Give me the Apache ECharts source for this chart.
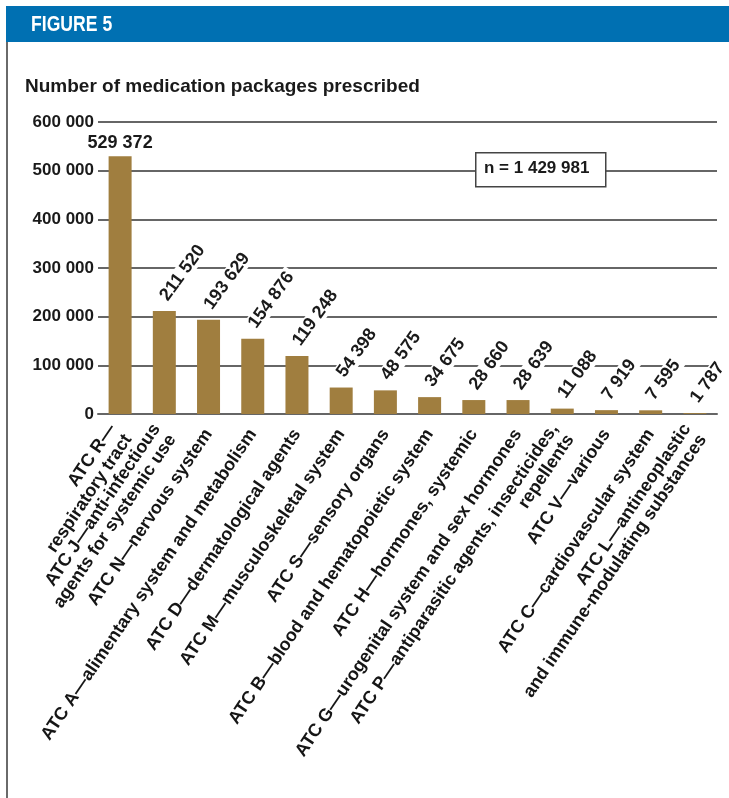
<!DOCTYPE html>
<html>
<head>
<meta charset="utf-8">
<style>
  html, body { margin: 0; padding: 0; background: #fff; }
  #chart { width: 729px; height: 798px; }
</style>
<script src="https://cdn.jsdelivr.net/npm/echarts@6/dist/echarts.min.js"></script>
</head>
<body>
<div id="chart"></div>
<script>
// ATC groups, ordered by number of packages prescribed
const categories = [
  'ATC R—\nrespiratory tract',
  'ATC J—anti-infectious\nagents for systemic use',
  'ATC N—nervous system',
  'ATC A—alimentary system and metabolism',
  'ATC D—dermatological agents',
  'ATC M—musculoskeletal system',
  'ATC S—sensory organs',
  'ATC B—blood and hematopoietic system',
  'ATC H—hormones, systemic',
  'ATC G—urogenital system and sex hormones',
  'ATC P—antiparasitic agents, insecticides,\nrepellents',
  'ATC V—various',
  'ATC C—cardiovascular system',
  'ATC L—antineoplastic\nand immune-modulating substances'
];
const packages = [529372, 211520, 193629, 154876, 119248, 54398, 48575, 34675, 28660, 28639, 11088, 7919, 7595, 1787];
const yTicks = [0, 100000, 200000, 300000, 400000, 500000, 600000];
const totalLabel = 'n = 1 429 981';
const figureTitle = 'FIGURE 5';
const axisTitle = 'Number of medication packages prescribed';

const FONT = '"Liberation Sans", Arial, Helvetica, sans-serif';
const fmt = v => String(v).replace(/\B(?=(\d{3})+(?!\d))/g, ' ');

// the tallest bar carries a horizontal label, the rest are slanted
const barData = packages.map((v, i) => i === 0
  ? { value: v, label: { rotate: 0, align: 'center', verticalAlign: 'bottom', offset: [0, 0], distance: 4, backgroundColor: 'transparent', padding: 0 } }
  : v);

const chart = echarts.init(document.getElementById('chart'), null, { renderer: 'canvas' });
chart.setOption({
  backgroundColor: '#fff',
  animation: false,
  title: {
    text: axisTitle,
    left: 20, top: 72,
    textStyle: { fontFamily: FONT, fontWeight: 'bold', fontSize: 19, color: '#1a1a1a' }
  },
  grid: { left: 98, right: 12, top: 122, bottom: 384, containLabel: false },
  xAxis: {
    type: 'category',
    data: categories,
    axisTick: { show: false },
    axisLine: { lineStyle: { color: '#666', width: 2 } },
    axisLabel: {
      interval: 0, rotate: 56, margin: 17,
      fontFamily: FONT, fontWeight: 'bold', fontSize: 18, lineHeight: 19, color: '#151515'
    }
  },
  yAxis: {
    type: 'value',
    min: yTicks[0], max: yTicks[yTicks.length - 1], interval: yTicks[1] - yTicks[0],
    axisLine: { show: false },
    axisTick: { show: false },
    splitLine: { lineStyle: { color: '#666', width: 2 } },
    axisLabel: {
      margin: 4, formatter: v => fmt(v),
      fontFamily: FONT, fontWeight: 'bold', fontSize: 17, color: '#1a1a1a'
    }
  },
  series: [{
    type: 'bar',
    data: barData,
    barWidth: 23,
    itemStyle: { color: '#a07e3f' },
    label: {
      show: true, position: 'top', rotate: 54, align: 'left', verticalAlign: 'middle',
      distance: 13, offset: [-4, 0],
      formatter: p => fmt(p.value),
      fontFamily: FONT, fontWeight: 'bold', fontSize: 18, color: '#1a1a1a',
      backgroundColor: '#fff', padding: [0, 3]
    }
  }],
  graphic: [
    { type: 'rect', left: 6, top: 6, shape: { width: 723, height: 36 }, style: { fill: '#0070b2' }, z: 10 },
    { type: 'text', left: 31, top: 14, scaleX: 0.8,
      style: { text: figureTitle, fill: '#fff', font: 'bold 22px ' + FONT }, z: 11 },
    { type: 'rect', left: 6, top: 42, shape: { width: 2, height: 756 }, style: { fill: '#6a6a6a' }, z: 10 },
    { type: 'rect', left: 475, top: 152, shape: { width: 130, height: 34 },
      style: { fill: '#fff', stroke: '#444', lineWidth: 1.5 }, z: 10 },
    { type: 'text', left: 484, top: 160,
      style: { text: totalLabel, fill: '#1a1a1a', font: 'bold 17px ' + FONT }, z: 11 }
  ]
});
</script>
</body>
</html>
